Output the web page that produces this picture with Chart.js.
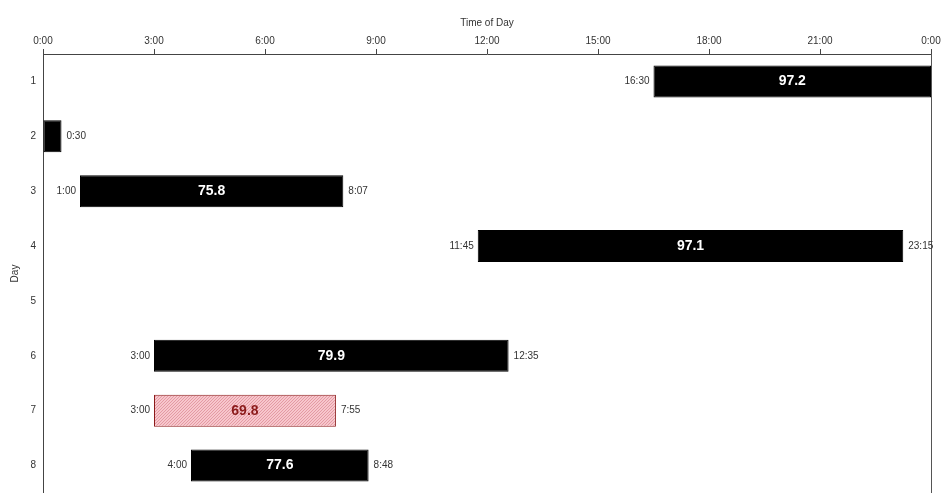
<!DOCTYPE html>
<html>
<head>
<meta charset="utf-8">
<script src="https://cdn.jsdelivr.net/npm/chart.js@4"></script>
<style>
html, body { margin: 0; padding: 0; background: #fff; }
#wrap { width: 945px; height: 493px; }
</style>
</head>
<body>
<div id="wrap"><canvas id="c"></canvas></div>
<script>
// data
const days = ['1', '2', '3', '4', '5', '6', '7', '8'];
const startTimes = ['16:30', '0:00', '1:00', '11:45', null, '3:00', '3:00', '4:00'];
const endTimes = ['24:00', '0:30', '8:07', '23:15', null, '12:35', '7:55', '8:48'];
const scores = [97.2, null, 75.8, 97.1, null, 79.9, 69.8, 77.6];
const xTickLabels = ['0:00', '3:00', '6:00', '9:00', '12:00', '15:00', '18:00', '21:00', '0:00'];
const flaggedDay = '7';

function toHours(t) {
    if (!t) return null;
    const p = t.split(':');
    return parseInt(p[0], 10) + parseInt(p[1], 10) / 60;
}

// fine pink hatch for the flagged day
function hatch() {
    const c = document.createElement('canvas');
    c.width = 3; c.height = 3;
    const g = c.getContext('2d');
    g.fillStyle = '#f7c6cc';
    g.fillRect(0, 0, 3, 3);
    g.fillStyle = '#e39aa3';
    g.fillRect(0, 2, 1, 1);
    g.fillRect(1, 1, 1, 1);
    g.fillRect(2, 0, 1, 1);
    return g.createPattern(c, 'repeat');
}

const ranges = days.map((d, i) => startTimes[i] ? [toHours(startTimes[i]), toHours(endTimes[i])] : null);
const pink = hatch();

const barLabels = {
    id: 'barLabels',
    afterDatasetsDraw(chart) {
        const ctx = chart.ctx;
        const meta = chart.getDatasetMeta(0);
        const area = chart.chartArea;
        ctx.save();
        // right frame line
        ctx.strokeStyle = '#555';
        ctx.lineWidth = 1;
        ctx.beginPath();
        ctx.moveTo(Math.round(area.right) + 0.5, area.top);
        ctx.lineTo(Math.round(area.right) + 0.5, chart.height);
        ctx.stroke();

        ctx.textBaseline = 'middle';
        meta.data.forEach((bar, i) => {
            if (!ranges[i]) return;
            const x0 = Math.min(bar.x, bar.base), x1 = Math.max(bar.x, bar.base);
            const y = bar.y;
            ctx.font = '10px "Liberation Sans", Arial, sans-serif';
            ctx.fillStyle = '#333';
            if (startTimes[i] !== '0:00') {
                ctx.textAlign = 'right';
                ctx.fillText(startTimes[i], x0 - 4, y);
            }
            if (endTimes[i] !== '24:00') {
                ctx.textAlign = 'left';
                ctx.fillText(endTimes[i], x1 + 5, y);
            }
            if (scores[i] != null) {
                ctx.font = 'bold 14px "Liberation Sans", Arial, sans-serif';
                ctx.textAlign = 'center';
                ctx.fillStyle = days[i] === flaggedDay ? '#8b1a1a' : '#fff';
                ctx.fillText(scores[i].toFixed(1), (x0 + x1) / 2, y);
            }
        });
        ctx.restore();
    }
};

Chart.defaults.font.family = '"Liberation Sans", Arial, sans-serif';
Chart.defaults.font.size = 10;
Chart.defaults.color = '#333';

new Chart(document.getElementById('c'), {
    type: 'bar',
    data: {
        labels: days,
        datasets: [{
            data: ranges,
            backgroundColor: days.map(d => d === flaggedDay ? pink : '#000'),
            borderColor: days.map(d => d === flaggedDay ? '#8b1a1a' : '#000'),
            borderWidth: 1,
            borderSkipped: false,
            categoryPercentage: 1,
            barPercentage: 0.585
        }]
    },
    options: {
        indexAxis: 'y',
        responsive: true,
        maintainAspectRatio: false,
        animation: false,
        layout: { padding: { left: 0, right: 14, top: 0, bottom: 0 } },
        plugins: { legend: { display: false }, tooltip: { enabled: false } },
        scales: {
            x: {
                position: 'top',
                min: 0,
                max: 24,
                ticks: {
                    stepSize: 3,
                    padding: 2,
                    maxRotation: 0,
                    callback: v => xTickLabels[v / 3]
                },
                grid: { drawOnChartArea: false, drawTicks: true, tickLength: 5, color: '#444' },
                border: { display: true, color: '#444' },
                title: { display: true, text: 'Time of Day', padding: { top: 17, bottom: 0 } },
                afterFit: s => { s.height = 54; }
            },
            y: {
                ticks: { padding: 7 },
                grid: { display: false, drawTicks: false },
                border: { display: true, color: '#444' },
                title: { display: true, text: 'Day', padding: { top: 9, bottom: 0 } },
                afterFit: s => { s.width = 43; s.paddingTop = 0; s.paddingBottom = 0; }
            }
        }
    },
    plugins: [barLabels]
});
</script>
</body>
</html>
